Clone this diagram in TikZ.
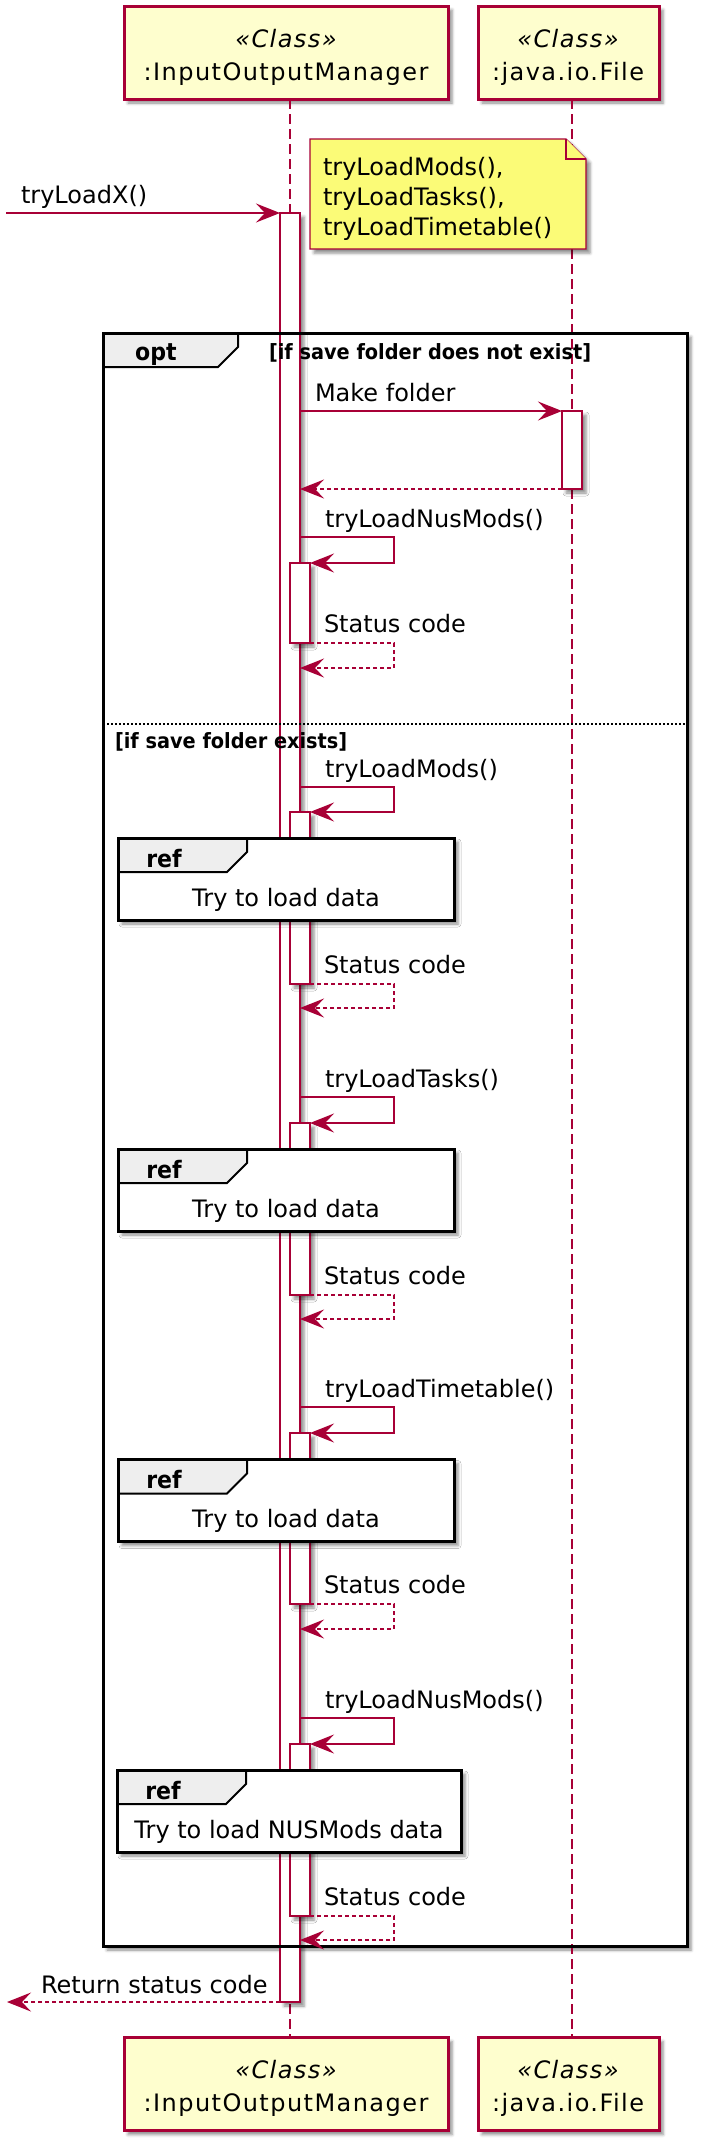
\documentclass[tikz,border=0pt]{standalone}
\usepackage{fontspec}
\setmainfont{DejaVu Sans}
\newfontfamily\condfont[FakeStretch=0.92]{DejaVu Sans}
\newfontfamily\widefont[LetterSpace=6]{DejaVu Sans}
\usetikzlibrary{arrows.meta,shadows.blur,calc}
\definecolor{pured}{HTML}{A80036}
\definecolor{pupart}{HTML}{FEFECE}
\definecolor{punote}{HTML}{FBFB77}
\definecolor{pugray}{HTML}{EEEEEE}
\tikzset{
  shd/.style={blur shadow={shadow xshift=4pt,shadow yshift=-4pt,shadow blur radius=3pt,shadow opacity=45}},
  msg/.style={draw=pured,line width=1.2pt,-{Stealth[length=24pt,width=19pt,inset=9pt]}},
  ret/.style={msg,dash pattern=on 4pt off 3pt},
  lifeline/.style={draw=pured,line width=1.2pt,dash pattern=on 10pt off 5pt},
  participant/.style={draw=pured,fill=pupart,line width=3pt,minimum height=93pt,shd},
  actbar/.style={draw=pured,fill=white,line width=1.2pt,minimum width=20pt,shd},
  notebg/.style={draw=pured,fill=punote,line width=1.2pt},
  refbox/.style={fill=white,minimum height=82pt,shd},
  frameline/.style={draw=black,line width=3pt},
  tabshape/.style={draw=black,fill=pugray,line width=2pt},
  divider/.style={draw=black,line width=1.2pt,dash pattern=on 2pt off 2pt},
  lbl/.style={font=\fontsize{24}{30}\selectfont,anchor=base west},
  ctr/.style={font=\fontsize{24}{30}\selectfont,anchor=base},
  pname/.style={font=\fontsize{24}{30}\selectfont\widefont,anchor=base},
  stereo/.style={font=\fontsize{24}{30}\selectfont\widefont\itshape,anchor=base},
  kw/.style={font=\fontsize{24}{30}\selectfont\condfont\bfseries,anchor=base},
  guard/.style={font=\fontsize{21}{26}\selectfont\condfont\bfseries,anchor=base west},
}
\begin{document}
\begin{tikzpicture}[x=1pt,y=-1pt,every node/.style={inner sep=0pt,outer sep=0pt}]
\useasboundingbox (0,0) rectangle (708,2150);
\coordinate (ioX) at (290,0);
\coordinate (fX) at (572,0);
% participants
\node[participant,minimum width=324pt] (iomTop) at (286,52.5) {};
\node[participant,minimum width=181pt] (fileTop) at (568.5,52.5) {};
\node[participant,minimum width=324pt] (iomBot) at (286,2084) {};
\node[participant,minimum width=181pt] (fileBot) at (568.5,2084) {};
\node[stereo] (iomTopS) at (286,47) {«Class»};
\node[pname] (iomTopN) at (286,80) {:InputOutputManager};
\node[stereo] (fileTopS) at (568,47) {«Class»};
\node[pname] (fileTopN) at (568,80) {:java.io.File};
\node[stereo] (iomBotS) at (286,2078) {«Class»};
\node[pname] (iomBotN) at (286,2111) {:InputOutputManager};
\node[stereo] (fileBotS) at (568,2078) {«Class»};
\node[pname] (fileBotN) at (568,2111) {:java.io.File};
% opt frame shadow
\node[minimum width=584pt,minimum height=1613pt] (opt) at (395,1139.5) {};
\path[fill=white,shd] (opt.north west) rectangle (opt.south east);
% lifelines
\draw[lifeline] (iomTop.south -| ioX) -- (iomBot.north -| ioX);
\draw[lifeline] (fileTop.south -| fX) -- (fileBot.north -| fX);
% activation bars
\node[actbar,minimum height=1789pt] (mainbar) at (290,1107.5) {};
\node[actbar,minimum height=78pt] (fbar) at (572,450) {};
\node[actbar,minimum height=80pt] (nb1) at (300,603) {};
\node[actbar,minimum height=172pt] (nb2) at (300,898) {};
\node[actbar,minimum height=172pt] (nb3) at (300,1209) {};
\node[actbar,minimum height=171pt] (nb4) at (300,1518.5) {};
\node[actbar,minimum height=172pt] (nb5) at (300,1830) {};
% opt frame
\path[tabshape] (opt.north west) -- ++(135,0) -- ++(0,14) -- ++(-20,20) -- ($(opt.north west)+(0,34)$) -- cycle;
\draw[frameline] (opt.north west) rectangle (opt.south east);
\coordinate (divY) at (0,724);
\draw[divider] (opt.west |- divY) -- (opt.east |- divY);
\node[kw] (optKw) at (156,360) {opt};
\node[guard] (g1) at (269,359) {[if save folder does not exist]};
\node[guard] (g2) at (115,748) {[if save folder exists]};
% note
\node[minimum width=276pt,minimum height=110pt] (note) at (448,194) {};
\path[notebg,shd] (note.north west) -- ($(note.north east)+(-20,0)$) -- ($(note.north east)+(0,20)$) -- (note.south east) -- (note.south west) -- cycle;
\draw[notebg] ($(note.north east)+(-20,0)$) -- ($(note.north east)+(-20,20)$) -- ($(note.north east)+(0,20)$);
\node[lbl] (n1) at (323,175) {tryLoadMods(),};
\node[lbl] (n2) at (323,205) {tryLoadTasks(),};
\node[lbl] (n3) at (323,235) {tryLoadTimetable()};
% entry message
\coordinate (entry) at (6,213);
\draw[msg] (entry) -- (mainbar.north west);
\node[lbl] (lX) at (21,203) {tryLoadX()};
% make folder
\draw[msg] (mainbar.east |- fbar.north) -- (fbar.north west);
\node[lbl] (lMake) at (315,401) {Make folder};
\draw[ret] (fbar.south west) -- (mainbar.east |- fbar.south);
% block 1: tryLoadNusMods in opt
\draw[msg] ($(mainbar.east |- nb1.north)+(0,-26)$) -- ++(94,0) |- (nb1.north east);
\node[lbl] (l1a) at (325,527) {tryLoadNusMods()};
\draw[ret] (nb1.south east) -- ++(84,0) |- ($(mainbar.east |- nb1.south)+(0,25)$);
\node[lbl] (l1b) at (324,632) {Status code};
% block 2: tryLoadMods
\draw[msg] ($(mainbar.east |- nb2.north)+(0,-25)$) -- ++(94,0) |- (nb2.north east);
\node[lbl] (l2a) at (325,777) {tryLoadMods()};
\draw[ret] (nb2.south east) -- ++(84,0) |- ($(mainbar.east |- nb2.south)+(0,24)$);
\node[lbl] (l2b) at (324,973) {Status code};
% block 3: tryLoadTasks
\draw[msg] ($(mainbar.east |- nb3.north)+(0,-26)$) -- ++(94,0) |- (nb3.north east);
\node[lbl] (l3a) at (325,1087) {tryLoadTasks()};
\draw[ret] (nb3.south east) -- ++(84,0) |- ($(mainbar.east |- nb3.south)+(0,24)$);
\node[lbl] (l3b) at (324,1284) {Status code};
% block 4: tryLoadTimetable
\draw[msg] ($(mainbar.east |- nb4.north)+(0,-26)$) -- ++(94,0) |- (nb4.north east);
\node[lbl] (l4a) at (325,1397) {tryLoadTimetable()};
\draw[ret] (nb4.south east) -- ++(84,0) |- ($(mainbar.east |- nb4.south)+(0,25)$);
\node[lbl] (l4b) at (324,1593) {Status code};
% block 5: tryLoadNusMods
\draw[msg] ($(mainbar.east |- nb5.north)+(0,-26)$) -- ++(94,0) |- (nb5.north east);
\node[lbl] (l5a) at (325,1708) {tryLoadNusMods()};
\draw[ret] (nb5.south east) -- ++(84,0) |- ($(mainbar.east |- nb5.south)+(0,24)$);
\node[lbl] (l5b) at (324,1905) {Status code};
% ref boxes
\node[refbox,minimum width=336pt] (ref1) at (286,879) {};
\path[tabshape] (ref1.north west) -- ++(129,0) -- ++(0,14) -- ++(-20,20) -- ($(ref1.north west)+(0,34)$) -- cycle;
\draw[frameline] (ref1.north west) rectangle (ref1.south east);
\node[kw] (ref1k) at (164,867) {ref};
\node[ctr] (ref1t) at (286,906) {Try to load data};
\node[refbox,minimum width=336pt] (ref2) at (286,1190) {};
\path[tabshape] (ref2.north west) -- ++(129,0) -- ++(0,14) -- ++(-20,20) -- ($(ref2.north west)+(0,34)$) -- cycle;
\draw[frameline] (ref2.north west) rectangle (ref2.south east);
\node[kw] (ref2k) at (164,1178) {ref};
\node[ctr] (ref2t) at (286,1217) {Try to load data};
\node[refbox,minimum width=336pt] (ref3) at (286,1500.5) {};
\path[tabshape] (ref3.north west) -- ++(129,0) -- ++(0,14) -- ++(-20,20) -- ($(ref3.north west)+(0,34)$) -- cycle;
\draw[frameline] (ref3.north west) rectangle (ref3.south east);
\node[kw] (ref3k) at (164,1488) {ref};
\node[ctr] (ref3t) at (286,1527) {Try to load data};
\node[refbox,minimum width=344pt] (ref4) at (289,1811) {};
\path[tabshape] (ref4.north west) -- ++(129,0) -- ++(0,14) -- ++(-20,20) -- ($(ref4.north west)+(0,34)$) -- cycle;
\draw[frameline] (ref4.north west) rectangle (ref4.south east);
\node[kw] (ref4k) at (163,1799) {ref};
\node[ctr] (ref4t) at (289,1838) {Try to load NUSMods data};
% return to caller
\coordinate (exit) at (7,2002);
\draw[ret] (mainbar.south west) -- (exit);
\node[lbl] (lRet) at (41,1993) {Return status code};
\end{tikzpicture}
\end{document}
